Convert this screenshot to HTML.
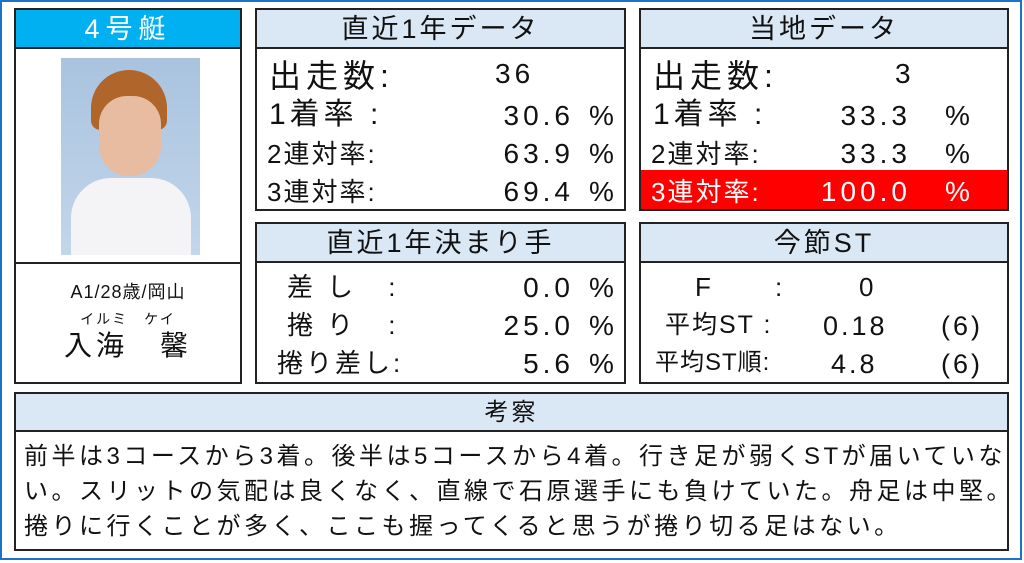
<!DOCTYPE html>
<html><head><meta charset="utf-8"><style>
*{margin:0;padding:0;box-sizing:border-box}
body{width:1024px;height:563px;background:#fff;position:relative;overflow:hidden;font-family:"Liberation Sans","Noto Sans CJK JP",sans-serif;color:#111}
.frame{position:absolute;left:0;top:0;width:1022px;height:560px;border:2px solid #1a73c8}
.box{position:absolute;border:2px solid #222;background:#fff}
.hd{position:absolute;left:0;top:0;right:0;height:39px;background:#dae8f6;border-bottom:2px solid #222;text-align:center;font-size:27px;line-height:39px;letter-spacing:3px}
.t{position:absolute;white-space:nowrap;line-height:1}
.r{text-align:right}
</style></head><body>
<div class="frame"></div>

<div class="box" style="left:14px;top:8px;width:228px;height:376px">
 <div class="hd" style="background:#00b0f0;color:#fff;letter-spacing:6px">4号艇</div>
 <div style="position:absolute;left:45px;top:48px;width:139px;height:197px;background:linear-gradient(#a9c3df,#c3d6ea)">
  <div style="position:absolute;left:30px;top:12px;width:76px;height:60px;background:#b0652a;border-radius:40px 40px 10px 10px"></div>
  <div style="position:absolute;left:38px;top:38px;width:62px;height:80px;background:#e8bca0;border-radius:28px 28px 30px 30px"></div>
  <div style="position:absolute;left:10px;top:120px;width:120px;height:77px;background:#f4f4f6;border-radius:40px 40px 0 0"></div>
 </div>
 <div style="position:absolute;left:0;right:0;top:252px;border-top:2px solid #222"></div>
 <div class="t" style="left:0;width:224px;text-align:center;top:273px;font-size:18px;letter-spacing:1px">A1/28歳/岡山</div>
 <div class="t" style="left:0;width:224px;text-align:center;top:302px;font-size:14px;letter-spacing:2px">イルミ　ケイ</div>
 <div class="t" style="left:0;width:224px;text-align:center;top:322px;font-size:28px;letter-spacing:4px">入海　馨</div>
</div>

<div class="box" style="left:255px;top:8px;width:371px;height:203px">
 <div class="hd">直近1年データ</div>
 <div class="t" style="left:12px;top:50px;font-size:32px;letter-spacing:5px">出走数:</div>
 <div class="t" style="left:238px;top:50px;font-size:28px;letter-spacing:4px">36</div>
 <div class="t" style="left:12px;top:90px;font-size:30px;letter-spacing:4px">1着率 :</div>
 <div class="t r" style="right:50px;top:92px;font-size:28px;letter-spacing:4px">30.6</div>
 <div class="t" style="left:332px;top:92px;font-size:28px">%</div>
 <div class="t" style="left:10px;top:131px;font-size:26px;letter-spacing:2px">2連対率:</div>
 <div class="t r" style="right:50px;top:130px;font-size:28px;letter-spacing:4px">63.9</div>
 <div class="t" style="left:332px;top:130px;font-size:28px">%</div>
 <div class="t" style="left:10px;top:169px;font-size:26px;letter-spacing:2px">3連対率:</div>
 <div class="t r" style="right:50px;top:168px;font-size:28px;letter-spacing:4px">69.4</div>
 <div class="t" style="left:332px;top:168px;font-size:28px">%</div>
</div>

<div class="box" style="left:639px;top:8px;width:370px;height:203px">
 <div class="hd">当地データ</div>
 <div class="t" style="left:12px;top:50px;font-size:32px;letter-spacing:5px">出走数:</div>
 <div class="t" style="left:254px;top:50px;font-size:28px">3</div>
 <div class="t" style="left:12px;top:90px;font-size:30px;letter-spacing:4px">1着率 :</div>
 <div class="t r" style="right:96px;top:92px;font-size:28px;letter-spacing:4px">33.3</div>
 <div class="t" style="left:304px;top:92px;font-size:28px">%</div>
 <div class="t" style="left:10px;top:131px;font-size:26px;letter-spacing:2px">2連対率:</div>
 <div class="t r" style="right:96px;top:130px;font-size:28px;letter-spacing:4px">33.3</div>
 <div class="t" style="left:304px;top:130px;font-size:28px">%</div>
 <div style="position:absolute;left:0;right:0;top:160px;height:39px;background:#ff0000"></div>
 <div class="t" style="left:10px;top:169px;font-size:26px;letter-spacing:2px;color:#fff">3連対率:</div>
 <div class="t r" style="right:96px;top:168px;font-size:28px;letter-spacing:4px;color:#fff">100.0</div>
 <div class="t" style="left:304px;top:168px;font-size:28px;color:#fff">%</div>
</div>

<div class="box" style="left:255px;top:222px;width:371px;height:162px">
 <div class="hd">直近1年決まり手</div>
 <div class="t" style="left:30px;top:50px;font-size:26px;letter-spacing:14px">差し :</div>
 <div class="t r" style="right:50px;top:50px;font-size:28px;letter-spacing:4px">0.0</div>
 <div class="t" style="left:332px;top:50px;font-size:28px">%</div>
 <div class="t" style="left:30px;top:88px;font-size:26px;letter-spacing:14px">捲り :</div>
 <div class="t r" style="right:50px;top:88px;font-size:28px;letter-spacing:4px">25.0</div>
 <div class="t" style="left:332px;top:88px;font-size:28px">%</div>
 <div class="t" style="left:20px;top:126px;font-size:26px;letter-spacing:3px">捲り差し:</div>
 <div class="t r" style="right:50px;top:126px;font-size:28px;letter-spacing:4px">5.6</div>
 <div class="t" style="left:332px;top:126px;font-size:28px">%</div>
</div>

<div class="box" style="left:639px;top:222px;width:370px;height:162px">
 <div class="hd">今節ST</div>
 <div class="t" style="left:54px;top:50px;font-size:26px">F</div>
 <div class="t" style="left:134px;top:50px;font-size:26px">:</div>
 <div class="t" style="left:218px;top:50px;font-size:26px">0</div>
 <div class="t" style="left:24px;top:89px;font-size:25px;letter-spacing:2px">平均ST :</div>
 <div class="t" style="left:182px;top:89px;font-size:27px;letter-spacing:3px">0.18</div>
 <div class="t" style="left:300px;top:89px;font-size:27px;letter-spacing:3px">(6)</div>
 <div class="t" style="left:14px;top:127px;font-size:24px;letter-spacing:1px">平均ST順:</div>
 <div class="t" style="left:190px;top:127px;font-size:27px;letter-spacing:3px">4.8</div>
 <div class="t" style="left:300px;top:127px;font-size:27px;letter-spacing:3px">(6)</div>
</div>

<div class="box" style="left:14px;top:392px;width:995px;height:159px">
 <div class="hd" style="height:38px;line-height:38px;font-size:24px">考察</div>
 <div class="t" style="left:8px;top:51px;font-size:24px;letter-spacing:3.5px">前半は3コースから3着。後半は5コースから4着。行き足が弱くSTが届いていな</div>
 <div class="t" style="left:8px;top:86px;font-size:24px;letter-spacing:3.5px">い。スリットの気配は良くなく、直線で石原選手にも負けていた。舟足は中堅。</div>
 <div class="t" style="left:8px;top:121px;font-size:24px;letter-spacing:3.5px">捲りに行くことが多く、ここも握ってくると思うが捲り切る足はない。</div>
</div>
</body></html>
